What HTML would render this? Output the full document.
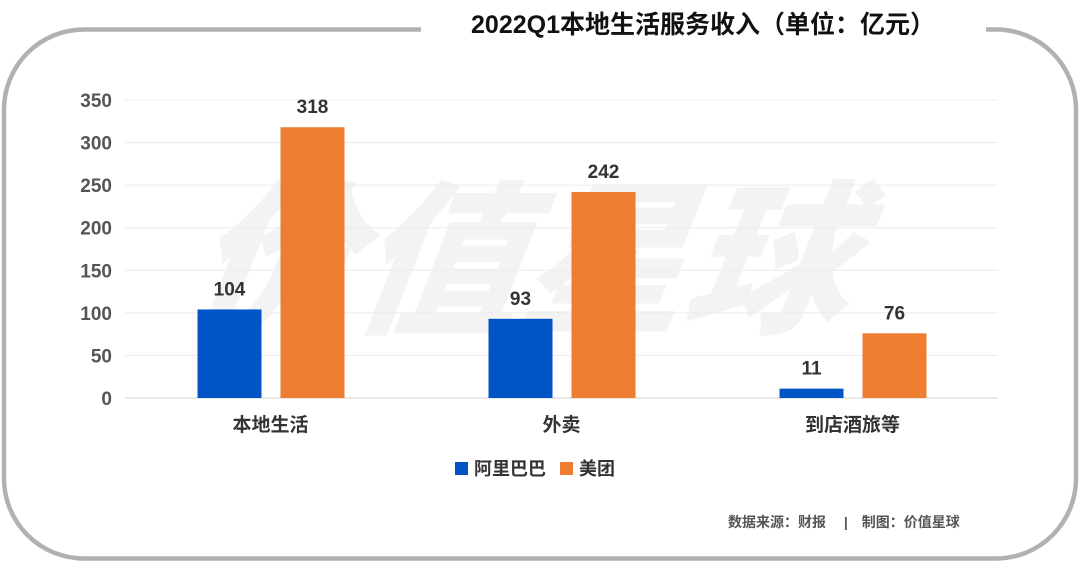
<!DOCTYPE html>
<html><head><meta charset="utf-8"><style>
body{margin:0;width:1080px;height:563px;background:#fff;overflow:hidden;font-family:"Liberation Sans","Noto Sans CJK SC",sans-serif}
</style></head><body>
<svg width="1080" height="563" xmlns="http://www.w3.org/2000/svg">
<path d="M421 29.5 H84 A80 80 0 0 0 4 109.5 V478 A80 80 0 0 0 84 558.5 H996 A80 80 0 0 0 1076 478.5 V109.5 A80 80 0 0 0 996 29.5 H986" fill="none" stroke="#b3b0ae" stroke-width="4.5"/>
<text x="703" y="33" text-anchor="middle" font-size="25" font-weight="bold" fill="#111" font-family="'Liberation Sans','Noto Sans CJK SC',sans-serif">2022Q1本地生活服务收入（单位：亿元）</text>
<text x="540" y="320" text-anchor="middle" font-size="165" font-weight="900" font-style="italic" fill="#f3f3f3" font-family="'Noto Sans CJK SC',sans-serif" transform="skewX(-8) translate(20,0)">价值星球</text>
<g id="grid"></g><g id="bars"></g>
<g>
<rect x="455" y="462" width="13" height="13" fill="#0054c6"/>
<text x="474" y="475" font-size="18" font-weight="bold" fill="#333">阿里巴巴</text>
<rect x="560" y="462" width="13" height="13" fill="#ed7d31"/>
<text x="579" y="475" font-size="18" font-weight="bold" fill="#333">美团</text>
</g>
<text x="728" y="527" font-size="14" font-weight="bold" fill="#555">数据来源：财报　 |　制图：价值星球</text>
</svg>
<script>
const categories=["本地生活","外卖","到店酒旅等"];
const alibaba=[104,93,11];
const meituan=[318,242,76];
const ticks=[0,50,100,150,200,250,300,350];
const NS="http://www.w3.org/2000/svg";
const x0=125,x1=998,base=398,topY=100,maxV=350;
const yS=v=>base-(base-topY)*v/maxV;
const bw=(x1-x0)/categories.length;
function mk(t,a,p){const e=document.createElementNS(NS,t);for(const k in a)e.setAttribute(k,a[k]);p.appendChild(e);return e;}
const g=document.getElementById('grid'),b=document.getElementById('bars');
ticks.forEach(t=>{
 const l=mk('line',{x1:x0,x2:x1,y1:yS(t),y2:yS(t),stroke:t===0?'#d0d0d0':'#ececec','stroke-width':1},g);
 
 
 const tx=mk('text',{x:112,y:yS(t)+7,'text-anchor':'end','font-size':19,'font-weight':'bold',fill:'#555'},g);
 tx.textContent=t;
 
 
});
categories.forEach((c,i)=>{
 const cx=x0+bw*(i+0.5);
 [[alibaba[i],'#0054c6',cx-73],[meituan[i],'#ed7d31',cx+10]].forEach(([v,col,bx],j)=>{
  const r=mk('rect',{x:bx,y:yS(v),width:64,height:base-yS(v),fill:col},b);
  
  
  const t=mk('text',{x:bx+32,y:yS(v)-14,'text-anchor':'middle','font-size':19,'font-weight':'bold',fill:'#333'},b);
  t.textContent=v;
  
  
 });
 const cl=mk('text',{x:cx,y:431,'text-anchor':'middle','font-size':19,'font-weight':'bold',fill:'#333'},b);
 cl.textContent=c;
 
 
});
</script>
</body></html>
